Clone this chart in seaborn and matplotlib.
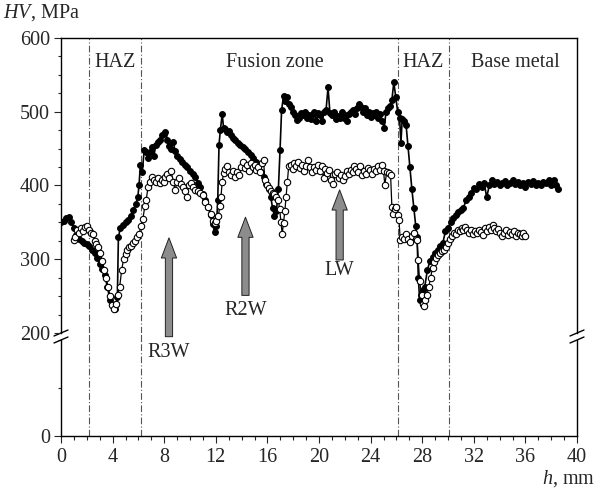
import matplotlib
matplotlib.use("Agg")
import matplotlib.pyplot as plt
from matplotlib.lines import Line2D
from matplotlib.ticker import MultipleLocator
import seaborn as sns
import numpy as np

# microhardness profile, filled markers
filled_h = [0.0, 0.2, 0.4, 0.6, 0.8, 1.0, 1.2, 1.4, 1.6, 1.8, 2.0, 2.2, 2.4, 2.6, 2.8,
            3.0, 3.2, 3.4, 3.6, 3.8, 4.0, 4.15, 4.3, 4.37, 4.45, 4.6, 4.8, 5.0, 5.2, 5.4,
            5.6, 5.8, 5.95, 6.05, 6.15, 6.3, 6.45, 6.6, 6.75, 6.9, 7.05, 7.2, 7.35, 7.5,
            7.65, 7.8, 7.95, 8.1, 8.25, 8.4, 8.55, 8.7, 8.85, 9.0, 9.2, 9.4, 9.6, 9.8,
            10.0, 10.2, 10.4, 10.6, 10.8, 11.0, 11.2, 11.4, 11.6, 11.75, 11.9, 12.05,
            12.15, 12.25, 12.35, 12.5, 12.6, 12.75, 12.9, 13.05, 13.2, 13.35, 13.5, 13.7,
            13.9, 14.1, 14.3, 14.5, 14.7, 14.9, 15.1, 15.3, 15.5, 15.7, 15.9, 16.1, 16.25,
            16.4, 16.55, 16.7, 16.85, 16.98, 17.1, 17.25, 17.4, 17.55, 17.7, 17.85, 18.0,
            18.15, 18.3, 18.45, 18.6, 18.75, 18.9, 19.05, 19.2, 19.35, 19.5, 19.65, 19.8,
            19.95, 20.1, 20.25, 20.4, 20.55, 20.7, 20.85, 21.0, 21.15, 21.3, 21.45, 21.6,
            21.75, 21.9, 22.05, 22.2, 22.35, 22.5, 22.65, 22.8, 22.95, 23.1, 23.25, 23.4,
            23.55, 23.7, 23.85, 24.0, 24.15, 24.3, 24.45, 24.6, 24.75, 24.9, 25.05, 25.2,
            25.35, 25.5, 25.65, 25.8, 25.95, 26.1, 26.25, 26.35, 26.45, 26.6, 26.75, 26.9,
            27.05, 27.2, 27.35, 27.5, 27.6, 27.7, 27.8, 27.9, 28.05, 28.2, 28.4, 28.6,
            28.8, 29.0, 29.2, 29.4, 29.6, 29.8, 30.0, 30.2, 30.4, 30.6, 30.8, 31.0, 31.2,
            31.4, 31.6, 31.8, 32.0, 32.2, 32.4, 32.6, 32.8, 33.0, 33.2, 33.4, 33.6, 33.8,
            34.0, 34.2, 34.4, 34.6, 34.8, 35.0, 35.2, 35.4, 35.6, 35.8, 36.0, 36.2, 36.4,
            36.6, 36.8, 37.0, 37.2, 37.4, 37.6, 37.8, 38.0, 38.2, 38.4, 38.55]
filled_hv = [350, 352, 356, 357, 350, 343, 333, 328, 325, 322, 320, 318, 312, 308, 302,
             294, 287, 278, 262, 245, 236, 232, 240, 249, 330, 342, 346, 350, 353, 358,
             367, 375, 384, 400, 428, 418, 448, 445, 437, 445, 452, 440, 455, 459,
             462, 468, 470, 473, 462, 453, 450, 459, 447, 440, 436, 432, 428, 425,
             420, 416, 412, 404, 398, 388, 380, 371, 360, 348, 337, 345,
             380, 455, 475, 497, 478, 476, 472, 474, 468, 465, 462, 458,
             455, 452, 450, 446, 442, 437, 432, 425, 418, 412, 402, 395, 385,
             370, 358, 365, 395, 448, 502, 522, 515, 520, 510, 506, 500,
             495, 489, 492, 498, 495, 500, 492, 496, 490, 497, 500, 488,
             498, 496, 487, 500, 503, 533, 498, 495, 500, 490, 494, 492,
             500, 491, 495, 488, 497, 500, 503, 497, 505, 510, 507, 500,
             505, 496, 500, 493, 498, 495, 500, 491, 497, 488, 478, 500,
             505, 508, 516, 540, 520, 500, 491, 457, 490, 488, 482, 453,
             425, 395, 370, 345, 330, 275, 245, 252, 258, 263, 285, 298,
             303, 308, 313, 318, 322, 338, 343, 350, 356, 360, 364, 367, 370,
             380, 385, 390, 397, 395, 402, 398, 404, 384, 400, 407, 402, 405,
             400, 404, 406, 401, 404, 407, 402, 405, 400, 403, 398, 405, 402,
             406, 401, 404, 400, 405, 403, 407, 400, 407, 401, 395]

# microhardness profile, open markers
open_h = [1.0, 1.1, 1.25, 1.4, 1.55, 1.7, 1.85, 2.0, 2.15, 2.3, 2.45, 2.6, 2.75, 2.9,
          3.05, 3.2, 3.35, 3.5, 3.65, 3.8, 3.95, 4.1, 4.25, 4.4, 4.55, 4.7, 4.85, 5.0,
          5.15, 5.3, 5.45, 5.6, 5.75, 5.9, 6.05, 6.2, 6.35, 6.5, 6.6, 6.75, 6.9, 7.05,
          7.2, 7.35, 7.5, 7.65, 7.8, 7.95, 8.1, 8.25, 8.4, 8.55, 8.7, 8.85, 9.0, 9.15,
          9.3, 9.45, 9.6, 9.75, 9.9, 10.05, 10.2, 10.4, 10.6, 10.8, 11.0, 11.2, 11.4,
          11.6, 11.75, 11.9, 12.05, 12.2, 12.3, 12.4, 12.5, 12.6, 12.75, 12.9, 13.05,
          13.2, 13.35, 13.5, 13.65, 13.8, 13.95, 14.1, 14.25, 14.4, 14.55, 14.7, 14.85,
          15.0, 15.15, 15.3, 15.45, 15.6, 15.7, 15.8, 15.95, 16.1, 16.25, 16.4, 16.55,
          16.7, 16.85, 16.95, 17.05, 17.15, 17.25, 17.35, 17.45, 17.55, 17.65, 17.8,
          17.95, 18.1, 18.25, 18.4, 18.55, 18.7, 18.85, 19.0, 19.15, 19.3, 19.45, 19.6,
          19.75, 19.9, 20.05, 20.2, 20.35, 20.5, 20.65, 20.8, 20.95, 21.1, 21.25, 21.4,
          21.55, 21.7, 21.85, 22.0, 22.15, 22.3, 22.45, 22.6, 22.75, 22.9, 23.05, 23.2,
          23.35, 23.5, 23.65, 23.8, 23.95, 24.1, 24.25, 24.4, 24.55, 24.7, 24.85, 25.0,
          25.1, 25.25, 25.4, 25.55, 25.65, 25.75, 25.9, 26.0, 26.1, 26.2, 26.3, 26.45,
          26.6, 26.75, 26.9, 27.05, 27.2, 27.35, 27.5, 27.6, 27.7, 27.8, 27.95, 28.05,
          28.15, 28.25, 28.35, 28.5, 28.65, 28.8, 28.95, 29.1, 29.25, 29.4, 29.55, 29.7,
          29.85, 30.0, 30.15, 30.3, 30.45, 30.6, 30.75, 30.9, 31.05, 31.2, 31.35, 31.5,
          31.65, 31.8, 31.95, 32.1, 32.25, 32.4, 32.55, 32.7, 32.85, 33.0, 33.15, 33.3,
          33.45, 33.6, 33.75, 33.9, 34.05, 34.2, 34.35, 34.5, 34.65, 34.8, 34.95, 35.1,
          35.25, 35.4, 35.55, 35.7, 35.85, 36.0]
open_hv = [326, 330, 340, 336, 342, 338, 344, 345, 340, 336, 334, 325, 320, 316,
           308, 298, 285, 274, 263, 250, 238, 232, 240, 252, 263, 285, 300, 307,
           313, 316, 318, 322, 325, 330, 334, 345, 355, 372, 380, 398, 405, 412,
           408, 405, 410, 404, 408, 405, 412, 416, 410, 419, 405, 394, 405, 410,
           402, 398, 392, 384, 400, 403, 398, 394, 392, 390, 387, 378, 371,
           362, 352, 349, 352, 358, 372, 385, 405, 417, 422, 426, 418,
           414, 420, 412, 418, 414, 425, 432, 424, 428, 420, 430, 425,
           428, 421, 425, 418, 430, 435, 407, 400, 396, 392, 390, 389,
           384, 380, 368, 350, 334, 349, 365, 385, 405, 426, 428,
           422, 430, 426, 432, 424, 428, 420, 426, 434, 425, 418, 425,
           421, 428, 420, 426, 410, 422, 417, 421, 408, 402, 415, 418,
           410, 414, 407, 413, 420, 416, 421, 418, 426, 422, 418, 426,
           414, 420, 416, 424, 421, 416, 423, 419, 426, 421, 428, 420,
           401, 418, 417, 414, 371, 362, 368, 371, 360, 353, 326, 330,
           328, 334, 327, 324, 332, 335, 328, 326, 299, 270, 252, 240,
           236, 245, 251, 262, 275, 288, 296, 302, 306, 308, 311, 313,
           316, 322, 328, 332, 336, 334, 340, 338, 342, 339, 344, 340,
           336, 340, 334, 338, 335, 340, 337, 333, 342, 338, 344, 340,
           346, 342, 338, 341, 336, 332, 336, 339, 333, 337, 334, 338,
           332, 336, 334, 331, 335, 331]

zone_bounds = [2.15, 6.2, 26.15, 30.1]
zone_labels = ["HAZ", "Fusion zone", "HAZ", "Base metal"]
zone_label_x = [4.2, 16.6, 28.1, 35.2]

# arrows: (label, x, tail HV, tip HV, label HV)
arrows = [("R3W", 8.37, 195, 329, 174),
          ("R2W", 14.3, 251, 357, 231),
          ("LW", 21.6, 299, 394, 285)]

sns.set_theme(style="ticks")
plt.rcParams["font.family"] = ["Liberation Serif", "DejaVu Serif"]
plt.rcParams["mathtext.fontset"] = "custom"
plt.rcParams["mathtext.rm"] = "Liberation Serif"
plt.rcParams["mathtext.it"] = "Liberation Serif:italic"

fs = 14.5
fig = plt.figure(figsize=(5.99, 4.92), dpi=100)
W, H = 599.0, 492.0
x0, x1 = 61 / W, 577 / W
ax_bot = fig.add_axes([x0, (H - 436) / H, x1 - x0, 96 / H])
ax_top = fig.add_axes([x0, (H - 333) / H, x1 - x0, 295 / H])
ax_top.set_zorder(2)
ax_top.patch.set_alpha(0)
ax_bot.patch.set_alpha(0)

vline_style = dict(color="#555555", lw=0.8, ls=(0, (6, 2, 1, 2)))
for ax in (ax_top, ax_bot):
    ax.set_xlim(0, 40)
    for b in zone_bounds:
        ax.axvline(b, zorder=1, **vline_style)
    for s in ax.spines.values():
        s.set_color("black")
        s.set_linewidth(1.0)
    ax.tick_params(axis="y", which="major", length=5, width=0.8, labelsize=fs, pad=3)
    ax.tick_params(axis="y", which="minor", length=2.5, width=0.8)

# dash-dot lines continue through the axis gap
for b in zone_bounds:
    xf = x0 + b / 40 * (x1 - x0)
    fig.add_artist(Line2D([xf, xf], [(H - 341) / H, (H - 332) / H], **vline_style))

# top panel: 200-600
sns.lineplot(x=filled_h, y=filled_hv, ax=ax_top, color="black", lw=1.2,
             marker="o", markersize=4.2, markerfacecolor="black",
             markeredgecolor="black", estimator=None, sort=False, zorder=3)
sns.lineplot(x=open_h, y=open_hv, ax=ax_top, color="black", lw=0.9,
             marker="o", markersize=4.6, markerfacecolor="white",
             markeredgecolor="black", markeredgewidth=0.8,
             estimator=None, sort=False, zorder=4)
ax_top.set_ylim(200, 600)
ax_top.yaxis.set_major_locator(MultipleLocator(100))
ax_top.yaxis.set_minor_locator(MultipleLocator(25))
ax_top.spines["bottom"].set_visible(False)
ax_top.tick_params(axis="x", which="both", bottom=False, labelbottom=False)
ax_top.set_xlabel("")
ax_top.set_ylabel("")

for lab, xl in zip(zone_labels, zone_label_x):
    ax_top.text(xl, 567, lab, ha="center", va="center", fontsize=fs)

for lab, xa, y_tail, y_tip, y_lab in arrows:
    ax_top.annotate("", xy=(xa, y_tip), xytext=(xa, y_tail), annotation_clip=False,
                    arrowprops=dict(arrowstyle="simple,head_length=1.45,head_width=1.1,tail_width=0.52",
                                    mutation_scale=10, fc="#8c8c8c", ec="#222222", lw=0.7,
                                    shrinkA=0, shrinkB=0),
                    zorder=6)
    ax_top.text(xa, y_lab, lab, ha="center", va="center", fontsize=fs, clip_on=False)

# bottom panel: 0-200
ax_bot.set_ylim(0, 200)
ax_bot.set_yticks([0])
ax_bot.yaxis.set_minor_locator(MultipleLocator(100))
ax_bot.spines["top"].set_visible(False)
ax_bot.xaxis.set_major_locator(MultipleLocator(4))
ax_bot.xaxis.set_minor_locator(MultipleLocator(1))
ax_bot.tick_params(axis="x", which="major", length=5, width=0.8, labelsize=fs, pad=4)
ax_bot.tick_params(axis="x", which="minor", length=3, width=0.8)
ax_bot.set_xlabel("")
ax_bot.set_ylabel("")

# axis break marks
dx, dy = 7 / W, 3 / H
for xs in (x0, x1):
    for yc in ((H - 333) / H, (H - 340) / H):
        fig.add_artist(Line2D([xs - dx, xs + dx], [yc - dy, yc + dy],
                              color="black", lw=1.0))

fig.text(3 / W, 1 - 13 / H, r"$\it{HV}$, MPa", fontsize=fs, ha="left", va="center")
fig.text(595 / W, 1 - 479 / H, r"$\it{h}$, mm", fontsize=fs, ha="right", va="center")

fig.savefig("out.png", dpi=100)
